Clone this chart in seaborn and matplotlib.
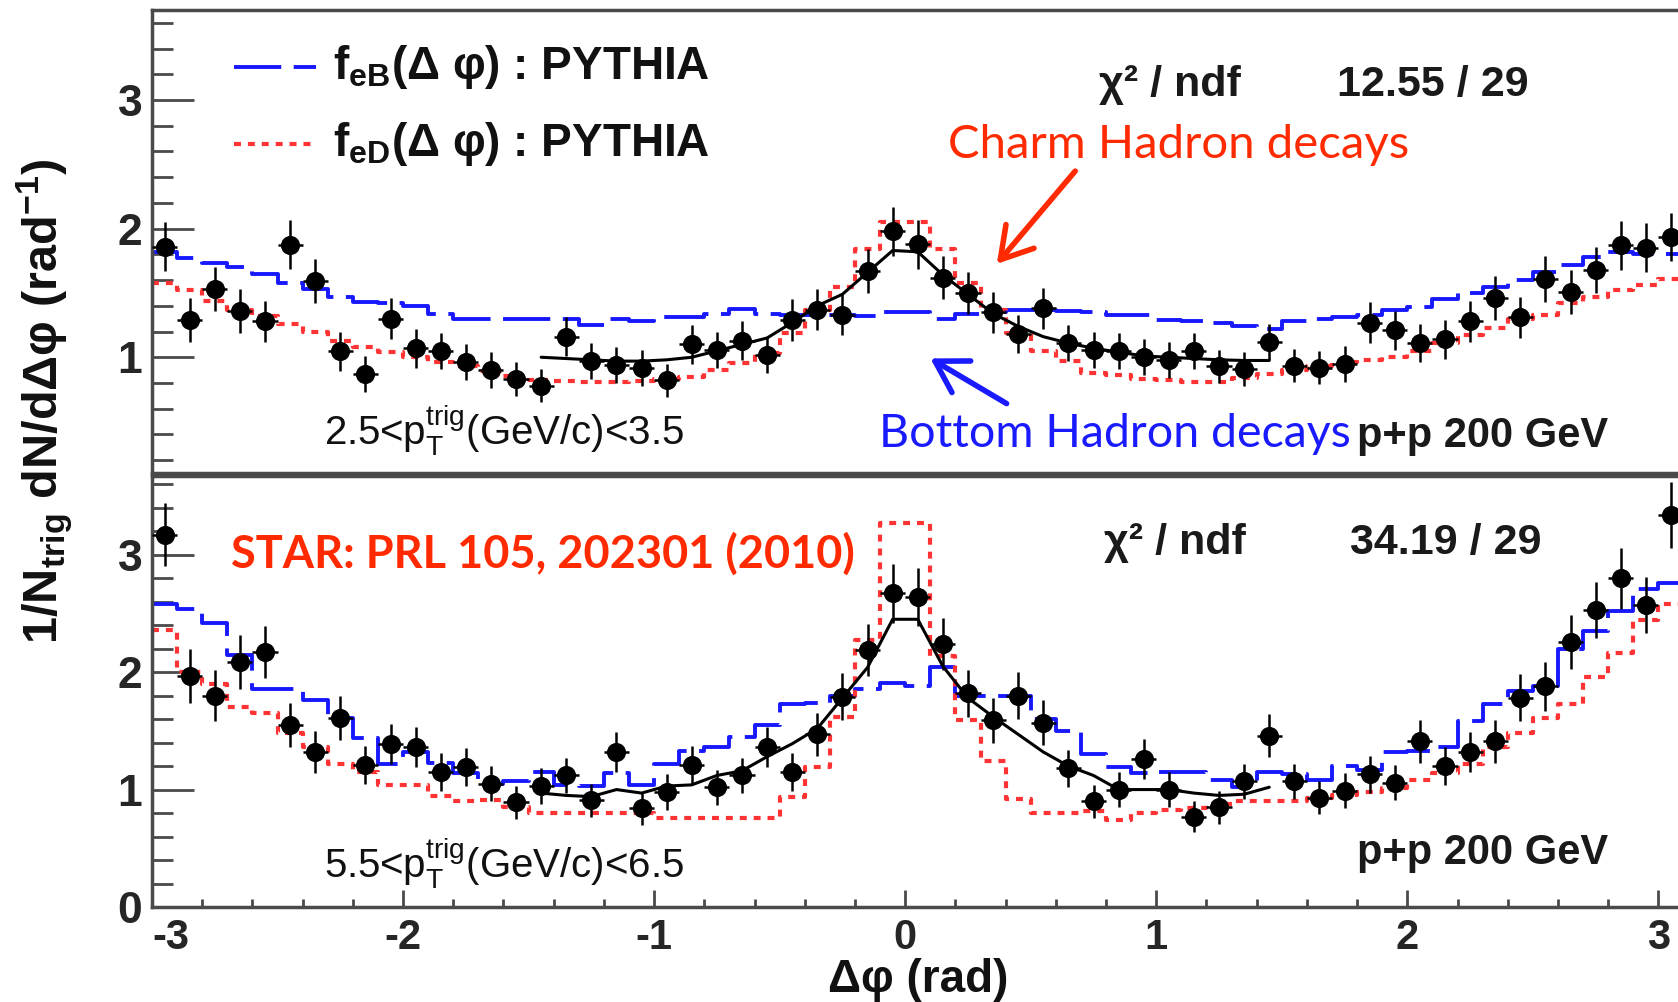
import numpy as np
import matplotlib.pyplot as plt
import seaborn as sns
from matplotlib.ticker import MultipleLocator

sns.set_theme(style="ticks")
plt.rcParams['font.family'] = ['Liberation Sans', 'DejaVu Sans']
plt.rcParams['mathtext.fontset'] = 'custom'
plt.rcParams['mathtext.rm'] = 'Liberation Sans'
plt.rcParams['mathtext.bf'] = 'Liberation Sans:bold'
plt.rcParams['mathtext.it'] = 'Liberation Sans:italic'
plt.rcParams['lines.scale_dashes'] = False

# ---------------- data ----------------
# bin edges of the PYTHIA templates (0.1 rad bins)
edges = [-3.0, -2.9, -2.8, -2.7, -2.6, -2.5, -2.4, -2.3, -2.2, -2.1,
         -2.0, -1.9, -1.8, -1.7, -1.6, -1.5, -1.4, -1.3, -1.2, -1.1,
         -1.0, -0.9, -0.8, -0.7, -0.6, -0.5, -0.4, -0.3, -0.2, -0.1,
         0.0, 0.1, 0.2, 0.3, 0.4, 0.5, 0.6, 0.7, 0.8, 0.9,
         1.0, 1.1, 1.2, 1.3, 1.4, 1.5, 1.6, 1.7, 1.8, 1.9,
         2.0, 2.1, 2.2, 2.3, 2.4, 2.5, 2.6, 2.7, 2.8, 2.9,
         3.0, 3.1]
# data point positions (bin centres)
dphi = [-2.95, -2.85, -2.75, -2.65, -2.55, -2.45, -2.35, -2.25, -2.15, -2.05,
        -1.95, -1.85, -1.75, -1.65, -1.55, -1.45, -1.35, -1.25, -1.15, -1.05,
        -0.95, -0.85, -0.75, -0.65, -0.55, -0.45, -0.35, -0.25, -0.15, -0.05,
        0.05, 0.15, 0.25, 0.35, 0.45, 0.55, 0.65, 0.75, 0.85, 0.95,
        1.05, 1.15, 1.25, 1.35, 1.45, 1.55, 1.65, 1.75, 1.85, 1.95,
        2.05, 2.15, 2.25, 2.35, 2.45, 2.55, 2.65, 2.75, 2.85, 2.95,
        3.05]

# top panel: 2.5 < pT(trig) < 3.5
top_y = [1.86, 1.29, 1.53, 1.36, 1.28, 1.875, 1.595, 1.045, 0.87, 1.30,
         1.07, 1.05, 0.96, 0.90, 0.83, 0.78, 1.16, 0.97, 0.94, 0.915,
         0.82, 1.10, 1.06, 1.13, 1.02, 1.29, 1.37, 1.33, 1.67, 1.98,
         1.88, 1.62, 1.50, 1.35, 1.18, 1.38, 1.11, 1.06, 1.045, 1.00,
         0.98, 1.045, 0.93, 0.91, 1.12, 0.935, 0.92, 0.95, 1.27, 1.21,
         1.11, 1.14, 1.28, 1.46, 1.31, 1.61, 1.51, 1.68, 1.87, 1.85,
         1.935]
top_err = [0.19, 0.17, 0.17, 0.17, 0.16, 0.19, 0.17, 0.15, 0.14, 0.16,
           0.15, 0.14, 0.14, 0.14, 0.13, 0.13, 0.15, 0.14, 0.14, 0.14,
           0.13, 0.15, 0.14, 0.15, 0.14, 0.16, 0.16, 0.16, 0.17, 0.19,
           0.19, 0.17, 0.16, 0.16, 0.15, 0.16, 0.14, 0.14, 0.14, 0.14,
           0.14, 0.14, 0.13, 0.13, 0.14, 0.13, 0.13, 0.14, 0.16, 0.15,
           0.15, 0.15, 0.16, 0.17, 0.16, 0.18, 0.17, 0.18, 0.19, 0.19,
           0.19]
top_blue = [1.815, 1.77, 1.73, 1.70, 1.65, 1.58, 1.53, 1.47, 1.43, 1.42,
            1.40, 1.34, 1.30, 1.30, 1.30, 1.30, 1.30, 1.25, 1.30, 1.28,
            1.31, 1.31, 1.34, 1.375, 1.34, 1.33, 1.33, 1.33, 1.32, 1.35,
            1.35, 1.30, 1.34, 1.35, 1.37, 1.37, 1.36, 1.35, 1.33, 1.33,
            1.29, 1.28, 1.27, 1.24, 1.22, 1.28, 1.30, 1.31, 1.33, 1.37,
            1.39, 1.45, 1.50, 1.55, 1.60, 1.66, 1.72, 1.78, 1.82, 1.80,
            1.80]
top_red = [1.58, 1.525, 1.44, 1.37, 1.32, 1.26, 1.20, 1.13, 1.08, 1.04,
           1.00, 0.965, 0.93, 0.89, 0.855, 0.82, 0.815, 0.81, 0.81, 0.815,
           0.83, 0.85, 0.90, 0.955, 1.03, 1.19, 1.37, 1.55, 1.84, 2.05,
           2.05, 1.84, 1.58, 1.37, 1.19, 1.045, 0.97, 0.88, 0.86, 0.83,
           0.825, 0.81, 0.81, 0.835, 0.87, 0.90, 0.93, 0.96, 0.98, 1.00,
           1.05, 1.11, 1.17, 1.23, 1.30, 1.33, 1.42, 1.47, 1.52, 1.56,
           1.61]
fit_x = [-1.45, -1.35, -1.25, -1.15, -1.05, -0.95, -0.85, -0.75, -0.65, -0.55,
         -0.45, -0.35, -0.25, -0.15, -0.05, 0.05, 0.15, 0.25, 0.35, 0.45,
         0.55, 0.65, 0.75, 0.85, 0.95, 1.05, 1.15, 1.25, 1.35, 1.45]
top_fit = [1.00, 0.99, 0.98, 0.97, 0.97, 0.98, 1.00, 1.05, 1.10, 1.15,
           1.27, 1.40, 1.49, 1.66, 1.83, 1.82, 1.64, 1.49, 1.34, 1.24,
           1.16, 1.11, 1.07, 1.04, 1.01, 1.00, 0.99, 0.98, 0.975, 0.975]

# bottom panel: 5.5 < pT(trig) < 6.5
bot_y = [3.17, 1.97, 1.80, 2.09, 2.17, 1.55, 1.32, 1.61, 1.21, 1.39,
         1.36, 1.15, 1.19, 1.05, 0.89, 1.03, 1.12, 0.91, 1.32, 0.84,
         0.98, 1.21, 1.02, 1.12, 1.36, 1.15, 1.47, 1.79, 2.19, 2.67,
         2.64, 2.24, 1.82, 1.59, 1.80, 1.57, 1.18, 0.90, 1.00, 1.26,
         1.00, 0.77, 0.85, 1.07, 1.46, 1.07, 0.93, 0.99, 1.13, 1.06,
         1.41, 1.20, 1.32, 1.41, 1.78, 1.88, 2.26, 2.53, 2.80, 2.57,
         3.34]
bot_err = [0.27, 0.23, 0.22, 0.23, 0.22, 0.19, 0.18, 0.19, 0.16, 0.17,
           0.17, 0.16, 0.16, 0.15, 0.14, 0.15, 0.15, 0.14, 0.17, 0.14,
           0.15, 0.16, 0.15, 0.15, 0.17, 0.16, 0.18, 0.20, 0.22, 0.25,
           0.25, 0.22, 0.20, 0.19, 0.20, 0.19, 0.16, 0.14, 0.15, 0.17,
           0.15, 0.13, 0.14, 0.15, 0.18, 0.15, 0.14, 0.15, 0.16, 0.15,
           0.18, 0.16, 0.17, 0.18, 0.20, 0.21, 0.23, 0.24, 0.26, 0.24,
           0.28]
bot_blue = [2.58, 2.54, 2.42, 2.15, 1.86, 1.86, 1.76, 1.61, 1.44, 1.22,
            1.32, 1.23, 1.14, 1.05, 1.07, 1.15, 1.04, 1.03, 1.14, 1.04,
            1.22, 1.33, 1.36, 1.45, 1.55, 1.73, 1.74, 1.80, 1.86, 1.91,
            1.88, 2.04, 1.80, 1.80, 1.80, 1.60, 1.50, 1.30, 1.19, 1.14,
            1.15, 1.15, 1.08, 1.02, 1.15, 1.13, 1.08, 1.20, 1.17, 1.32,
            1.33, 1.36, 1.58, 1.73, 1.84, 1.88, 2.20, 2.35, 2.52, 2.71,
            2.76]
bot_red = [2.36, 2.00, 1.90, 1.70, 1.65, 1.48, 1.36, 1.22, 1.15, 1.04,
           1.04, 0.945, 0.90, 0.91, 0.85, 0.80, 0.80, 0.80, 0.80, 0.80,
           0.76, 0.76, 0.76, 0.76, 0.76, 0.94, 1.19, 1.62, 2.27, 3.27,
           3.27, 2.14, 1.59, 1.24, 0.92, 0.80, 0.80, 0.82, 0.74, 0.80,
           0.83, 0.84, 0.88, 0.90, 0.90, 0.90, 0.93, 0.95, 0.98, 1.01,
           1.08, 1.14, 1.22, 1.36, 1.48, 1.61, 1.73, 1.96, 2.16, 2.44,
           2.58]
bot_fit = [0.97, 0.95, 0.94, 1.00, 0.97, 1.03, 1.04, 1.12, 1.16, 1.28,
           1.39, 1.52, 1.78, 2.04, 2.45, 2.45, 2.05, 1.78, 1.62, 1.47,
           1.32, 1.20, 1.12, 1.00, 1.00, 1.00, 0.97, 0.95, 0.96, 1.02]

BLUE = '#1818ff'
RED = '#ff3333'
ANN_RED = '#ff2a00'
ANN_BLUE = '#1a1aff'
FRAME = '#4a4a4a'

W, H = 1678, 1002
fig = plt.figure(figsize=(W / 100, H / 100), dpi=100)
fig.patch.set_facecolor('white')

left = 152 / W
width = 1529 / W
ax_top = fig.add_axes([left, 1 - 473 / H, width, 463 / H])
ax_bot = fig.add_axes([left, 1 - 907 / H, width, 431 / H])


def draw_panel(ax, yvals, yerr, blue, red, fit):
    sns.lineplot(x=edges, y=blue + [blue[-1]], ax=ax, color=BLUE, lw=2.8,
                 drawstyle='steps-post', linestyle=(0, (34, 9)),
                 errorbar=None, sort=False)
    sns.lineplot(x=edges, y=red + [red[-1]], ax=ax, color=RED, lw=3.0,
                 drawstyle='steps-post', linestyle=(0, (5, 5)),
                 errorbar=None, sort=False)
    sns.lineplot(x=fit_x, y=fit, ax=ax, color='black', lw=2.2,
                 errorbar=None, sort=False)
    ax.errorbar(dphi, yvals, yerr=yerr, xerr=0.05, fmt='none',
                ecolor='black', elinewidth=1.8, capsize=0, zorder=4)
    sns.scatterplot(x=dphi, y=yvals, ax=ax, color='black', s=190,
                    marker='o', edgecolor='black', linewidth=0, zorder=5)
    ax.set_xlim(-3.0, 3.09)
    ax.xaxis.set_major_locator(MultipleLocator(1))
    ax.xaxis.set_minor_locator(MultipleLocator(0.2))
    ax.yaxis.set_major_locator(MultipleLocator(1))
    ax.yaxis.set_minor_locator(MultipleLocator(0.2))
    ax.tick_params(axis='y', which='major', direction='in', length=30,
                   width=2.0, color=FRAME, labelsize=32, pad=7)
    ax.tick_params(axis='y', which='minor', direction='in', length=15,
                   width=2.0, color=FRAME)
    ax.tick_params(axis='x', which='major', direction='in', length=12,
                   width=2.0, color=FRAME, labelsize=30, pad=8)
    ax.tick_params(axis='x', which='minor', direction='in', length=6,
                   width=2.0, color=FRAME)
    for lab in ax.get_yticklabels() + ax.get_xticklabels():
        lab.set_fontweight('bold')
    ax.spines['right'].set_visible(False)
    for s in ('left', 'top', 'bottom'):
        ax.spines[s].set_color(FRAME)
        ax.spines[s].set_linewidth(2.5)
    ax.set_xlabel('')
    ax.set_ylabel('')


draw_panel(ax_top, top_y, top_err, top_blue, top_red, top_fit)
draw_panel(ax_bot, bot_y, bot_err, bot_blue, bot_red, bot_fit)

ax_top.set_ylim(0.10, 3.70)
ax_top.tick_params(axis='x', which='both', bottom=False, labelbottom=False)
ax_bot.set_ylim(0.0, 3.67)
ax_bot.set_yticks([0, 1, 2, 3])
ax_bot.set_yticklabels(['0', '1', '2', '3'], fontweight='bold')
ax_bot.set_xticks([-3, -2, -1, 0, 1, 2, 3])
ax_bot.set_xticklabels(['-3', '-2', '-1', '0', '1', '2', '3'], fontweight='bold')
# ROOT puts the first label just right of the corner
ax_bot.get_xticklabels()[0].set_horizontalalignment('left')

# legend (drawn by hand, ROOT style)
ax_top.plot([-2.674, -2.347], [3.26, 3.26], color=BLUE, lw=2.8,
            linestyle=(0, (34, 9)))
ax_top.plot([-2.674, -2.347], [2.66, 2.66], color=RED, lw=3.0,
            linestyle=(0, (5, 5)))
ax_top.text(-2.28, 3.26, r'f$_{\mathbf{eB}}$(Δ φ) : PYTHIA', fontsize=33,
            fontweight='bold', va='center', ha='left', color='#111111')
ax_top.text(-2.28, 2.66, r'f$_{\mathbf{eD}}$(Δ φ) : PYTHIA', fontsize=33,
            fontweight='bold', va='center', ha='left', color='#111111')

# fit statistics and labels
txt = dict(fontsize=31, fontweight='bold', color='#1a1a1a', va='baseline')
ax_top.text(0.77, 3.03, 'χ² / ndf', **txt)
ax_top.text(1.72, 3.03, '12.55 / 29', **txt)
ax_bot.text(0.79, 3.01, 'χ² / ndf', **txt)
ax_bot.text(1.77, 3.01, '34.19 / 29', **txt)
pp = dict(fontsize=30, fontweight='bold', color='#1a1a1a', va='baseline')
ax_top.text(1.80, 0.30, 'p+p 200 GeV', **pp)
ax_bot.text(1.80, 0.37, 'p+p 200 GeV', **pp)
ax_top.text(-2.315, 0.32, r'2.5<p$_{\mathrm{T}}^{\mathrm{trig}}$(GeV/c)<3.5',
            fontsize=29, color='#111111', va='baseline')
ax_bot.text(-2.315, 0.25, r'5.5<p$_{\mathrm{T}}^{\mathrm{trig}}$(GeV/c)<6.5',
            fontsize=29, color='#111111', va='baseline')

# slide annotations
ax_top.text(0.17, 2.55, 'Charm Hadron decays', family=['Lato', 'DejaVu Sans'],
            fontsize=34, color=ANN_RED, va='baseline')
ax_top.text(-0.105, 0.30, 'Bottom Hadron decays', family=['Lato', 'DejaVu Sans'],
            fontsize=33.5, color=ANN_BLUE, va='baseline')
ax_bot.text(-2.685, 2.885, 'STAR: PRL 105, 202301 (2010)',
            family=['Lato', 'DejaVu Sans'], fontsize=32.5, fontweight='bold',
            color=ANN_RED, va='baseline')

ax_top.annotate('', xy=(995, H - 266), xytext=(1077, H - 169),
                xycoords='figure pixels', textcoords='figure pixels',
                arrowprops=dict(arrowstyle='->, head_length=0.55, head_width=0.33',
                                color=ANN_RED, lw=4, mutation_scale=40))
ax_top.annotate('', xy=(928, H - 357), xytext=(1009, H - 405),
                xycoords='figure pixels', textcoords='figure pixels',
                arrowprops=dict(arrowstyle='->, head_length=0.55, head_width=0.33',
                                color=ANN_BLUE, lw=4, mutation_scale=40))

# axis titles
fig.text(45 / W, 1 - 401 / H,
         r'1/N$_{\mathbf{trig}}$ dN/dΔφ (rad$^{\mathbf{-1}}$)',
         rotation=90, fontsize=35, fontweight='bold', ha='center', va='center',
         color='#111111')
fig.text(918 / W, 1 - 980 / H, 'Δφ (rad)', fontsize=33, fontweight='bold',
         ha='center', va='center', color='#111111')

fig.savefig('out.png', dpi=100)
